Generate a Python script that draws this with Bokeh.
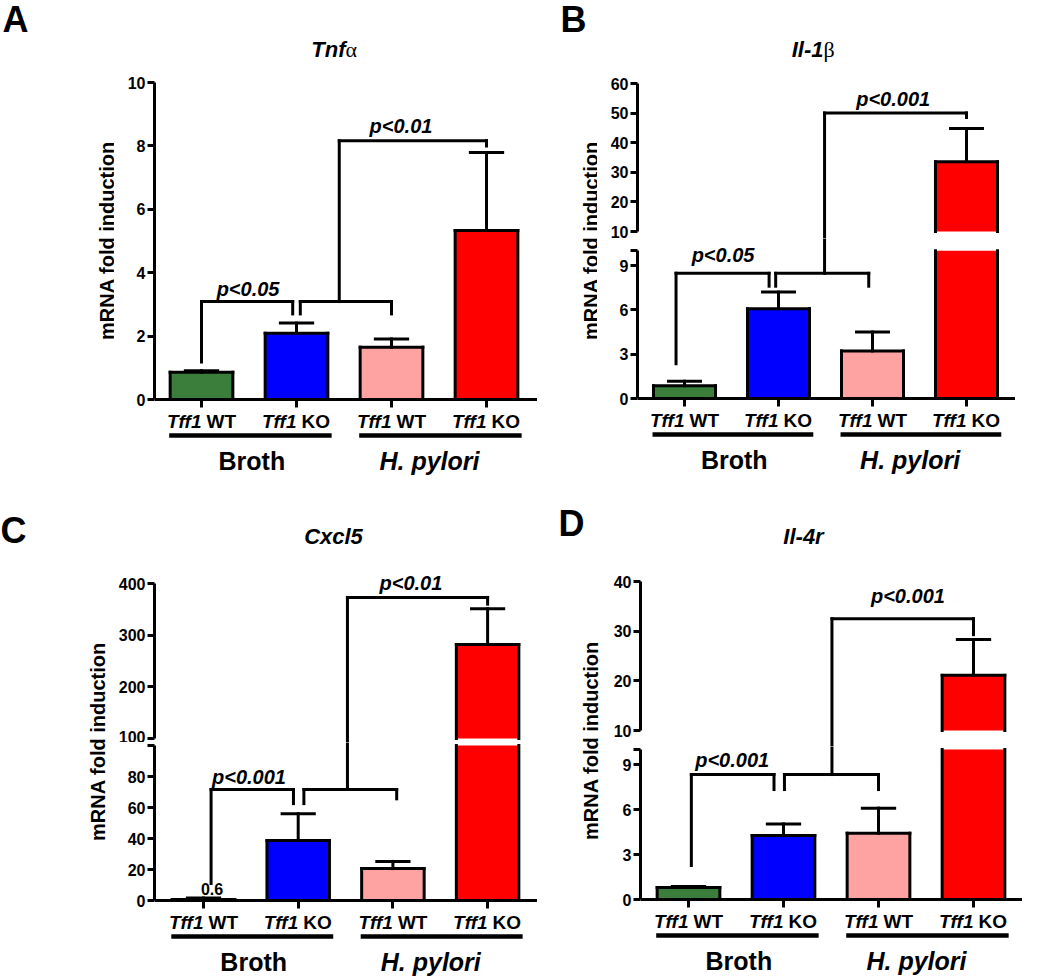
import math
from bokeh.plotting import figure
from bokeh.layouts import row, column
from bokeh.models import Range1d, FixedTicker
from bokeh.core.properties import value
from bokeh.embed import file_html
from bokeh.resources import INLINE

FONT = "Liberation Sans"
SERIF = "Liberation Serif"
INF = math.inf

# ------------------------------------------------------------------ data
gene = "Tff1"
genotypes = ["WT", "KO", "WT", "KO"]
groups = ["Broth", "H. pylori"]
bar_colors = ["#3b7d3b", "#0000ff", "#ffa2a2", "#ff0000"]
ylabel = "mRNA fold induction"

tnfa_mean = [0.86, 2.09, 1.65, 5.33]
tnfa_sem = [0.05, 0.32, 0.26, 2.46]
il1b_mean = [0.86, 6.08, 3.22, 33.6]
il1b_sem = [0.31, 1.12, 1.28, 11.2]
cxcl5_mean = [0.6, 38.7, 20.6, 282.0]
cxcl5_sem = [1.0, 17.3, 4.6, 69.0]
il4r_mean = [0.8, 4.27, 4.42, 21.1]
il4r_sem = [0.07, 0.77, 1.67, 7.2]

tnfa_ticks = [0, 2, 4, 6, 8, 10]
il1b_ticks_low = [0, 3, 6, 9]
il1b_ticks_high = [10, 20, 30, 40, 50, 60]
cxcl5_ticks_low = [0, 20, 40, 60, 80]
cxcl5_ticks_high = [100, 200, 300, 400]
il4r_ticks_low = [0, 3, 6, 9]
il4r_ticks_high = [10, 20, 30, 40]

# significance brackets (paths in category / value space)
tnfa_br_x = [[0, 0, 0.96, 0.96], [1.04, 1.04, 2.0, 2.0], [1.45, 1.45, 3.0, 3.0]]
tnfa_br_y = [[1.18, 3.09, 3.09, 2.7], [2.7, 3.09, 3.09, 2.7], [3.09, 8.16, 8.16, 8.0]]
tnfa_p = ["p<0.05", "p<0.01"]
tnfa_p_x = [0.49, 2.1]
tnfa_p_y = [3.49, 8.64]

il1b_br_x = [[-0.09, -0.09, 0.9, 0.9], [0.97, 0.97, 1.96, 1.96], [1.49, 1.49, 3.0, 3.0]]
il1b_br_y = [[2.35, 8.47, 8.47, 7.6], [7.6, 8.47, 8.47, 7.6], [8.47, 50, 50, 48.5]]
il1b_p = ["p<0.05", "p<0.001"]
il1b_p_x = [0.41, 2.22]
il1b_p_y = [9.68, 54.8]

cxcl5_br_x = [[0.08, 0.08, 0.95, 0.95], [1.06, 1.06, 2.04, 2.04], [1.52, 1.52, 3.0, 3.0]]
cxcl5_br_y = [[11, 71.6, 71.6, 62.5], [62.5, 71.6, 71.6, 65.6], [71.6, 373, 373, 360]]
cxcl5_p = ["p<0.001", "p<0.01"]
cxcl5_p_x = [0.48, 2.19]
cxcl5_p_y = [79.7, 401]
cxcl5_value_label = ["0.6"]

il4r_br_x = [[0.03, 0.03, 0.9, 0.9], [1.01, 1.01, 2.0, 2.0], [1.51, 1.51, 3.0, 3.0]]
il4r_br_y = [[2.27, 8.33, 8.33, 7.33], [7.33, 8.33, 8.33, 7.33], [8.33, 32.5, 32.5, 29.3]]
il4r_p = ["p<0.001", "p<0.001"]
il4r_p_x = [0.46, 2.31]
il4r_p_y = [9.3, 37.1]

# ------------------------------------------------------------------ layout / style
BORDER_L = 40
LW = 3
BAR_W = 0.66
CAP_W = 0.34
CAT_MID = 22       # px below zero line (text middle)
ULINE = 36
GROUP_MID = 61


def seg_range(sg):
    k = (sg["p1"] - sg["p2"]) / (sg["v2"] - sg["v1"])
    start = sg["v1"] - (sg["bottom"] - sg["p1"]) / k
    end = sg["v1"] + (sg["p1"] - sg["top"]) / k
    return k, start, end


def clip(x0s, y0s, x1s, y1s, lo, hi, lo_ext, hi_ext):
    X0, Y0, X1, Y1 = [], [], [], []
    for x0, y0, x1, y1 in zip(x0s, y0s, x1s, y1s):
        a, b = min(y0, y1), max(y0, y1)
        if b < lo or a > hi:
            continue
        if y0 == y1:
            X0.append(x0); Y0.append(y0); X1.append(x1); Y1.append(y1)
            continue

        def f(y):
            if y > hi:
                return hi_ext
            if y < lo:
                return lo_ext
            return y
        X0.append(x0); Y0.append(f(y0)); X1.append(x1); Y1.append(f(y1))
    return X0, Y0, X1, Y1


def txt(p, x, y, t, size, style="bold", font=FONT, align="center", angle=0, x_offset=0):
    p.text(x=x, y=y, text=t, text_font=value(font), text_font_style=style,
           text_font_size=size, text_align=align, text_baseline="middle",
           text_color="black", angle=angle, x_offset=x_offset)


def build_panel(sp):
    L, R, T, B = sp["box"]
    axis_x, x0, kx = sp["axis_x"], sp["x0"], sp["kx"]
    main_w = (R - axis_x) + BORDER_L
    left_w = axis_x - BORDER_L - L

    lf = figure(width=left_w, height=B - T, x_range=Range1d(L, L + left_w),
                y_range=Range1d(B, T), output_backend="svg", toolbar_location=None,
                min_border=0, x_axis_location=None, y_axis_location=None,
                outline_line_color=None)
    lf.xgrid.visible = False
    lf.ygrid.visible = False
    txt(lf, [sp["letter_xy"][0]], [sp["letter_xy"][1]], [sp["letter"]], "36px", align="left")
    txt(lf, [sp["ylabel_xy"][0]], [sp["ylabel_xy"][1]], [ylabel], "20px", angle=math.pi / 2)

    mean, sem = sp["mean"], sp["sem"]
    xs = list(range(len(mean)))
    xr0 = -(x0 - axis_x) / kx
    xr1 = (R - x0) / kx

    ox0, oy0, ox1, oy1 = [], [], [], []
    for x, v in zip(xs, mean):
        l, r = x - BAR_W / 2, x + BAR_W / 2
        ox0 += [l, r, l]; oy0 += [0, 0, v]; ox1 += [l, r, r]; oy1 += [v, v, v]
    ex0, ey0, ex1, ey1 = [], [], [], []
    for x, v, e in zip(xs, mean, sem):
        ex0 += [x, x - CAP_W / 2]; ey0 += [v, v + e]
        ex1 += [x, x + CAP_W / 2]; ey1 += [v + e, v + e]
    bx0, by0, bx1, by1 = [], [], [], []
    for pxs, pys in zip(*sp["brackets"]):
        for i in range(len(pxs) - 1):
            bx0.append(pxs[i]); by0.append(pys[i]); bx1.append(pxs[i + 1]); by1.append(pys[i + 1])

    figs = []
    nseg = len(sp["segs"])
    for si, sg in enumerate(sp["segs"]):
        k, ys, ye = seg_range(sg)
        lo, hi = sg["lo"], sg["hi"]
        is_top, is_bottom = si == 0, si == nseg - 1
        p = figure(width=main_w, height=sg["bottom"] - sg["top"],
                   x_range=Range1d(xr0, xr1), y_range=Range1d(ys, ye),
                   output_backend="svg", toolbar_location=None,
                   min_border=0, min_border_left=BORDER_L,
                   x_axis_location="below" if is_bottom else None,
                   y_axis_location="left", outline_line_color=None,
                   background_fill_color="white", border_fill_color="white")
        p.xgrid.visible = False
        p.ygrid.visible = False

        ax = p.yaxis[0]
        ax.ticker = FixedTicker(ticks=sg["ticks"], minor_ticks=[])
        ax.bounds = sg["bounds"]
        ax.major_label_overrides = {t: "" for t in sg.get("hidden", [])}
        ax.axis_line_width = LW
        ax.axis_line_color = "black"
        ax.major_tick_line_width = LW
        ax.major_tick_out = 7
        ax.major_tick_in = 0
        ax.minor_tick_out = 0
        ax.minor_tick_in = 0
        ax.major_label_text_font = FONT
        ax.major_label_text_font_style = "bold"
        ax.major_label_text_font_size = "16px"
        ax.major_label_text_color = "black"
        ax.major_label_standoff = 2

        if is_bottom:
            xa = p.xaxis[0]
            xa.fixed_location = 0
            xa.ticker = FixedTicker(ticks=xs, minor_ticks=[])
            xa.major_label_overrides = {i: "" for i in xs}
            xa.major_label_text_font_size = "0px"
            xa.axis_line_width = LW
            xa.axis_line_color = "black"
            xa.major_tick_line_width = LW
            xa.major_tick_out = 8
            xa.major_tick_in = 0
            xa.minor_tick_out = 0
            xa.minor_tick_in = 0

        sel = [i for i in xs if mean[i] > lo]
        p.vbar(x=[xs[i] for i in sel], width=BAR_W,
               bottom=[max(0, lo) for i in sel],
               top=[min(mean[i], hi) for i in sel],
               fill_color=[bar_colors[i] for i in sel], line_color=None)
        for segs in (clip(ox0, oy0, ox1, oy1, lo, hi, lo, hi),
                     clip(ex0, ey0, ex1, ey1, lo, hi, lo, hi)):
            if segs[0]:
                p.segment(x0=segs[0], y0=segs[1], x1=segs[2], y1=segs[3],
                          line_color="black", line_width=LW, line_cap="square")
        segs = clip(bx0, by0, bx1, by1, lo, hi, ys, ye)
        if segs[0]:
            p.segment(x0=segs[0], y0=segs[1], x1=segs[2], y1=segs[3],
                      line_color="black", line_width=LW, line_cap="square")
        for t, px_, py_ in zip(*sp["pvals"]):
            if lo <= py_ <= hi:
                txt(p, [px_], [py_], [t], "20px", style="bold italic")
        for t, vx, vy, off in sp.get("value_labels", []):
            if lo <= vy <= hi:
                txt(p, [vx], [vy + off / k], [t], "16px")

        if is_top:
            tx = (sp["title_x"] - x0) / kx
            ty = sg["v1"] + (sg["p1"] - sp["title_mid"]) / k
            for t, style, font, align in sp["title"]:
                txt(p, [tx], [ty], [t], "22px", style=style, font=font, align=align)

        if is_bottom:
            cy = -CAT_MID / k
            txt(p, xs, [cy] * len(xs), [gene] * len(xs), "19px", style="bold italic", align="right")
            txt(p, xs, [cy] * len(xs), genotypes, "19px", align="left", x_offset=5)
            uy = -ULINE / k
            p.segment(x0=[2 * g - 0.34 for g in range(len(groups))], y0=[uy] * len(groups),
                      x1=[2 * g + 1.37 for g in range(len(groups))], y1=[uy] * len(groups),
                      line_color="black", line_width=4.5)
            gy = -GROUP_MID / k
            txt(p, [0.53], [gy], [groups[0]], "25px")
            txt(p, [2.4], [gy], [groups[1]], "25px", style="bold italic")
        figs.append(p)

    return row(lf, column(*figs))


spec_A = dict(
    letter="A", letter_xy=(2, 19), ylabel_xy=(106, 240),
    title=[("Tnf", "bold italic", FONT, "right"), ("α", "normal", SERIF, "left")],
    title_x=345, title_mid=49,
    box=(0, 537, 0, 478), axis_x=154, x0=201, kx=95,
    mean=tnfa_mean, sem=tnfa_sem, brackets=(tnfa_br_x, tnfa_br_y),
    pvals=(tnfa_p, tnfa_p_x, tnfa_p_y),
    segs=[dict(lo=-INF, hi=INF, v1=0, p1=399, v2=10, p2=82, top=0, bottom=478,
               ticks=tnfa_ticks, bounds=(0, 10))],
)
spec_B = dict(
    letter="B", letter_xy=(560, 19), ylabel_xy=(590, 240),
    title=[("Il-1", "bold italic", FONT, "right"), ("β", "normal", SERIF, "left")],
    title_x=823, title_mid=49,
    box=(537, 1015, 0, 478), axis_x=637, x0=684, kx=94,
    mean=il1b_mean, sem=il1b_sem, brackets=(il1b_br_x, il1b_br_y),
    pvals=(il1b_p, il1b_p_x, il1b_p_y),
    segs=[dict(lo=10, hi=INF, v1=10, p1=231, v2=60, p2=83, top=0, bottom=238,
               ticks=il1b_ticks_high, bounds=(10, 60)),
          dict(lo=-INF, hi=10, v1=0, p1=398, v2=9, p2=265, top=238, bottom=478,
               ticks=il1b_ticks_low + [10], hidden=[10], bounds=(0, 10))],
)
spec_C = dict(
    letter="C", letter_xy=(0, 530), ylabel_xy=(97, 741),
    title=[("Cxcl5", "bold italic", FONT, "center")],
    title_x=333, title_mid=536,
    box=(0, 537, 478, 977), axis_x=154, x0=203, kx=94.7,
    mean=cxcl5_mean, sem=cxcl5_sem, brackets=(cxcl5_br_x, cxcl5_br_y),
    pvals=(cxcl5_p, cxcl5_p_x, cxcl5_p_y),
    value_labels=[(cxcl5_value_label[0], 0.09, cxcl5_mean[0], 11)],
    segs=[dict(lo=100, hi=INF, v1=100, p1=738, v2=400, p2=583, top=478, bottom=742,
               ticks=cxcl5_ticks_high, bounds=(100, 400)),
          dict(lo=-INF, hi=100, v1=0, p1=900, v2=80, p2=776, top=742, bottom=977,
               ticks=cxcl5_ticks_low + [100], hidden=[100], bounds=(0, 100))],
)
spec_D = dict(
    letter="D", letter_xy=(558, 523), ylabel_xy=(590, 740),
    title=[("Il-4r", "bold italic", FONT, "center")],
    title_x=803, title_mid=536,
    box=(537, 1022, 478, 977), axis_x=640, x0=688, kx=95,
    mean=il4r_mean, sem=il4r_sem, brackets=(il4r_br_x, il4r_br_y),
    pvals=(il4r_p, il4r_p_x, il4r_p_y),
    segs=[dict(lo=10, hi=INF, v1=10, p1=730, v2=40, p2=581, top=478, bottom=746,
               ticks=il4r_ticks_high, bounds=(10, 40)),
          dict(lo=-INF, hi=10, v1=0, p1=899, v2=9, p2=764, top=746, bottom=977,
               ticks=il4r_ticks_low + [10], hidden=[10], bounds=(0, 10))],
)

layout = column(row(build_panel(spec_A), build_panel(spec_B)),
                row(build_panel(spec_C), build_panel(spec_D)))

open("out.html", "w").write(file_html(layout, INLINE))
